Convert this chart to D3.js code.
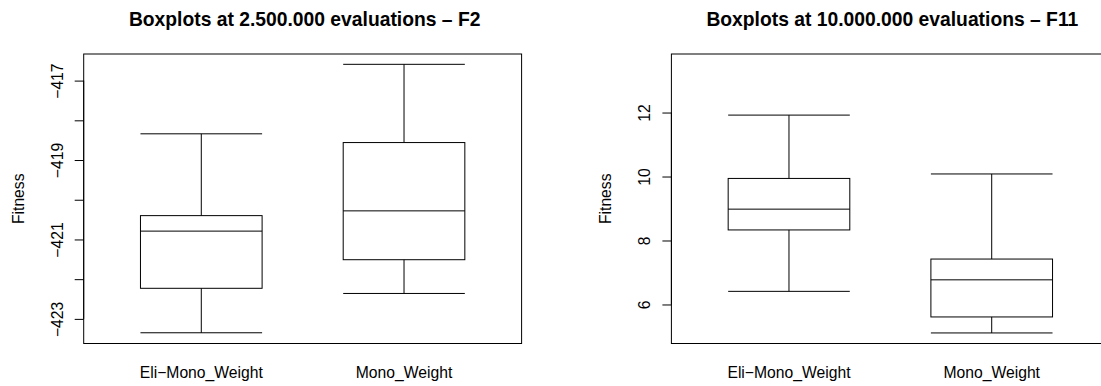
<!DOCTYPE html>
<html>
<head>
<meta charset="utf-8">
<script src="https://cdn.jsdelivr.net/npm/d3@7"></script>
<style>
  body { margin: 0; background: #fff; }
  svg text { font-family: "Liberation Sans", Arial, Helvetica, sans-serif; fill: #000; }
  .title { font-weight: bold; font-size: 19.3px; }
  .lab { font-size: 15.7px; }
</style>
</head>
<body>
<svg id="chart" width="1101" height="386"></svg>
<script>
// groups shown on the x axis
const groups = ["Eli\u2212Mono_Weight", "Mono_Weight"];

// five-number summaries [lower whisker, Q1, median, Q3, upper whisker]
const f2Stats = [
  [-423.35, -422.23, -420.79, -420.40, -418.34],
  [-422.36, -421.51, -420.28, -418.56, -416.59]
];
const f11Stats = [
  [6.41, 8.33, 8.98, 9.94, 11.92],
  [5.11, 5.61, 6.77, 7.42, 10.08]
];

// axis ranges and ticks
const f2Domain = [-423.62, -416.33];
const f2Ticks = [-423, -422, -421, -420, -419, -418, -417];
const f2Labels = [-423, -421, -419, -417];
const f11Domain = [4.78, 13.83];
const f11Ticks = [6, 8, 10, 12];
const f11Labels = [6, 8, 10, 12];

const panels = [
  {title: "Boxplots at 2.500.000 evaluations \u2013 F2", stats: f2Stats, domain: f2Domain,
   ticks: f2Ticks, labels: f2Labels, left: 83.7, right: 521.6},
  {title: "Boxplots at 10.000.000 evaluations \u2013 F11", stats: f11Stats, domain: f11Domain,
   ticks: f11Ticks, labels: f11Labels, left: 671.4, right: 1109.3}
];

const svg = d3.select("#chart");
const plotTop = 54, plotBottom = 343.5;
const fmt = d => String(d).replace("-", "\u2212");

panels.forEach(function(p) {
  const x = d3.scaleLinear().domain([0.42, 2.58]).range([p.left, p.right]);
  const y = d3.scaleLinear().domain(p.domain).range([plotBottom, plotTop]);
  const g = svg.append("g");

  // title
  g.append("text").attr("class", "title")
    .attr("x", (p.left + p.right) / 2 + 2).attr("y", 26)
    .attr("text-anchor", "middle").text(p.title);

  // y axis, R style: ticks everywhere, labels where they fit
  const yAxis = d3.axisLeft(y).tickValues(p.ticks).tickSize(9).tickSizeOuter(0)
    .tickFormat(d => p.labels.includes(d) ? fmt(d) : "");
  const ag = g.append("g").attr("transform", "translate(" + p.left + ",0)").call(yAxis);
  ag.select(".domain").remove();
  ag.attr("font-size", null).attr("font-family", null);
  ag.selectAll(".tick line").attr("stroke", "#000");
  ag.selectAll(".tick text")
    .attr("class", "lab")
    .attr("fill", "#000")
    .attr("transform", "rotate(-90)")
    .attr("x", 0).attr("y", -21).attr("dy", 0)
    .attr("text-anchor", "middle");
  g.append("line")
    .attr("x1", p.left).attr("x2", p.left)
    .attr("y1", y(d3.min(p.ticks))).attr("y2", y(d3.max(p.ticks)))
    .attr("stroke", "#000");

  // y label
  g.append("text").attr("class", "lab")
    .attr("transform", "translate(" + (p.left - 60) + "," + ((plotTop + plotBottom) / 2) + ") rotate(-90)")
    .attr("text-anchor", "middle").text("Fitness");

  // x labels
  g.selectAll("text.xl").data(groups).enter().append("text")
    .attr("class", "lab xl")
    .attr("x", (d, i) => x(i + 1)).attr("y", 377.5)
    .attr("text-anchor", "middle").text(d => d);

  // boxes
  const bw = 0.3;
  const bg = g.selectAll("g.bx").data(p.stats).enter().append("g").attr("class", "bx")
    .attr("stroke", "#000").attr("stroke-width", 1).attr("fill", "none");
  bg.append("line").attr("x1", (d, i) => x(i + 1)).attr("x2", (d, i) => x(i + 1))
    .attr("y1", d => y(d[0])).attr("y2", d => y(d[1]));
  bg.append("line").attr("x1", (d, i) => x(i + 1)).attr("x2", (d, i) => x(i + 1))
    .attr("y1", d => y(d[3])).attr("y2", d => y(d[4]));
  bg.append("line").attr("x1", (d, i) => x(i + 1 - bw)).attr("x2", (d, i) => x(i + 1 + bw))
    .attr("y1", d => y(d[0])).attr("y2", d => y(d[0]));
  bg.append("line").attr("x1", (d, i) => x(i + 1 - bw)).attr("x2", (d, i) => x(i + 1 + bw))
    .attr("y1", d => y(d[4])).attr("y2", d => y(d[4]));
  bg.append("rect")
    .attr("x", (d, i) => x(i + 1 - bw)).attr("width", (d, i) => x(i + 1 + bw) - x(i + 1 - bw))
    .attr("y", d => y(d[3])).attr("height", d => y(d[1]) - y(d[3]));
  bg.append("line").attr("x1", (d, i) => x(i + 1 - bw)).attr("x2", (d, i) => x(i + 1 + bw))
    .attr("y1", d => y(d[2])).attr("y2", d => y(d[2]));

  // frame
  g.append("rect").attr("x", p.left).attr("y", plotTop)
    .attr("width", p.right - p.left).attr("height", plotBottom - plotTop)
    .attr("fill", "none").attr("stroke", "#000");
});
</script>
</body>
</html>
